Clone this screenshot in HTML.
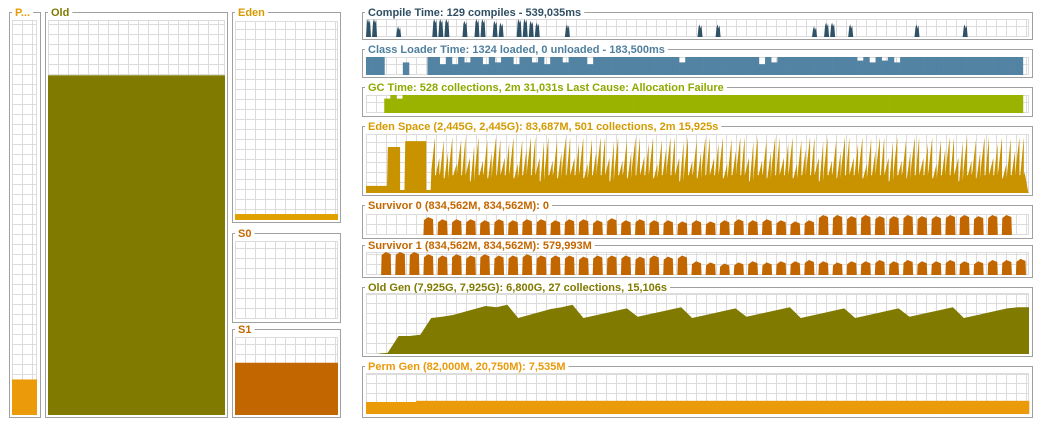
<!DOCTYPE html>
<html><head><meta charset="utf-8">
<style>
body{margin:0;background:#fff;width:1037px;height:429px;overflow:hidden;font-family:"Liberation Sans",sans-serif}
svg{display:block}
text{font-family:"Liberation Sans",sans-serif;font-weight:bold;font-size:11px}
</style></head>
<body>
<svg id="c" width="1037" height="429"></svg>
<script>
// ---- data ----
const compileVals=[1,1,0,0,0,0.6,0,0,0,0,0,1,1,1,0,0,0.9,0,1,1,0,0.9,0.8,0,0,1,1,0.9,0.8,0,0,0,0,0.7,0,0,0,0,0,0,0,0,0,0,0,0,0,0,0,0,0,0,0,0,0,0.7,0,0,0.7,0,0,0,0,0,0,0,0,0,0,0,0,0,0,0,0.6,0,0.8,0.8,0,0,0.7,0,0,0,0,0,0,0,0,0,0,0.7,0,0,0,0,0,0,0,0.7,0,0,0,0,0,0,0,0,0,0];
const classVals=[1,1,1,0,0,0,0.7,0,0,0,1,1,0.6,1,0.6,1,0.7,1,1,0.6,1,0.7,1,1,0.6,1,1,0.7,1,0.6,1,1,0.7,1,1,1,0.6,1,1,1,1,1,1,1,1,1,1,1,1,1,1,0.7,1,1,1,1,1,1,1,1,1,1,1,1,0.6,1,0.7,1,1,1,1,1,1,1,1,1,1,1,1,1,0.8,1,0.7,1,0.8,1,0.7,1,1,1,1,1,1,1,1,1,1,1,1,1,1,1,1,1,1,1,1,0];
const gcVals=[0,0,0,0.8,1,0.8,1,1,1,1,1,1,1,1,1,1,1,1,1,1,1,1,1,1,1,1,1,1,1,1,1,1,1,1,1,1,1,1,1,1,1,1,1,1,1,1,1,1,1,1,1,1,1,1,1,1,1,1,1,1,1,1,1,1,1,1,1,1,1,1,1,1,1,1,1,1,1,1,1,1,1,1,1,1,1,1,1,1,1,1,1,1,1,1,1,1,1,1,1,1,1,1,1,1,1,1,1,1,0];
const edenPeaks=[0.12,0.12,0.12,0.12,0.12,0.78,0.78,0.78,0.05,0.88,0.88,0.88,0.88,0.88,0.05,0.95,0.6,0.9,0.7,0.95,0.5,0.9,0.95,0.6,0.8,0.95,0.55,0.9,0.7,0.95,0.92,0.6,0.85,0.95,0.5,0.9,0.75,0.95,0.95,0.6,0.88,0.95,0.55,0.9,0.7,0.95,0.95,0.6,0.85,0.95,0.5,0.92,0.72,0.95,0.95,0.6,0.88,0.95,0.55,0.9,0.7,0.95,0.95,0.62,0.85,0.95,0.5,0.9,0.75,0.95,0.95,0.6,0.88,0.95,0.55,0.9,0.7,0.95,0.95,0.6,0.85,0.95,0.5,0.92,0.72,0.95,0.95,0.6,0.88,0.95,0.55,0.9,0.7,0.95,0.95,0.6,0.85,0.95,0.5,0.9,0.75,0.95,0.95,0.6,0.88,0.95,0.55,0.9,0.7,0.95,0.95,0.6,0.85,0.95,0.5,0.92,0.72,0.95,0.95,0.6,0.88,0.95,0.55,0.9,0.7,0.95,0.95,0.6,0.85,0.95,0.5,0.9,0.75,0.95,0.95,0.6,0.88,0.95,0.55,0.9,0.7,0.95,0.95,0.6,0.85,0.95,0.5,0.92,0.72,0.95,0.95,0.02];
const edenValleys=[0.12,0.12,0.12,0.12,0.12,0.78,0.78,0.78,0.05,0.88,0.88,0.88,0.88,0.88,0.05,0.4,0.3,0.35,0.25,0.4,0.3,0.45,0.3,0.35,0.2,0.4,0.3,0.35,0.25,0.45,0.3,0.35,0.3,0.4,0.25,0.35,0.3,0.45,0.3,0.35,0.2,0.4,0.3,0.35,0.25,0.45,0.3,0.35,0.3,0.4,0.25,0.35,0.3,0.45,0.3,0.35,0.2,0.4,0.3,0.35,0.25,0.45,0.3,0.35,0.3,0.4,0.25,0.35,0.3,0.45,0.3,0.35,0.2,0.4,0.3,0.35,0.25,0.45,0.3,0.35,0.3,0.4,0.25,0.35,0.3,0.45,0.3,0.35,0.2,0.4,0.3,0.35,0.25,0.45,0.3,0.35,0.3,0.4,0.25,0.35,0.3,0.45,0.3,0.35,0.2,0.4,0.3,0.35,0.25,0.45,0.3,0.35,0.3,0.4,0.25,0.35,0.3,0.45,0.3,0.35,0.2,0.4,0.3,0.35,0.25,0.45,0.3,0.35,0.3,0.4,0.25,0.35,0.3,0.45,0.3,0.35,0.2,0.4,0.3,0.35,0.25,0.45,0.3,0.35,0.3,0.4,0.25,0.35,0.3,0.45,0.3,0.35,0.02];
const s0Blocks=[0,0,0,0,0.85,0.75,0.75,0.75,0.7,0.75,0.7,0.75,0.75,0.7,0.75,0.75,0.7,0.8,0.7,0.75,0.7,0.7,0.65,0.7,0.65,0.7,0.75,0.7,0.75,0.7,0.65,0.7,0.95,0.95,0.9,0.95,0.9,0.9,0.95,0.9,0.9,0.95,0.95,0.9,0.95,0.95,0];
const s1Blocks=[0,1,1,1,0.9,0.85,0.9,0.85,0.9,0.85,0.85,0.9,0.85,0.85,0.85,0.8,0.85,0.85,0.85,0.8,0.85,0.8,0.85,0.6,0.55,0.5,0.55,0.6,0.55,0.6,0.6,0.65,0.6,0.55,0.6,0.6,0.65,0.6,0.65,0.6,0.6,0.65,0.6,0.6,0.65,0.65,0.7];
const oldVals=[0,0,0.02,0.3,0.3,0.32,0.6,0.62,0.65,0.7,0.75,0.8,0.78,0.82,0.6,0.65,0.7,0.75,0.78,0.82,0.6,0.64,0.68,0.72,0.76,0.62,0.66,0.7,0.74,0.78,0.6,0.64,0.68,0.72,0.76,0.62,0.66,0.7,0.74,0.78,0.6,0.64,0.68,0.72,0.76,0.6,0.64,0.68,0.72,0.76,0.62,0.66,0.7,0.74,0.78,0.6,0.64,0.68,0.72,0.76,0.78,0.78];
const permVals=[0.3,0.3,0.3,0.3,0.3,0.33,0.33,0.33,0.33,0.33,0.33,0.33,0.33,0.33,0.33,0.33,0.33,0.33,0.33,0.33,0.33,0.33,0.33,0.33,0.33,0.33,0.33,0.33,0.33,0.33,0.33,0.33,0.33,0.33,0.33,0.33,0.33,0.33,0.33,0.33,0.33,0.33,0.33,0.33,0.33,0.33,0.33,0.33,0.33,0.33,0.33,0.33,0.33,0.33,0.33,0.33,0.33,0.33,0.33,0.33,0.33,0.33,0.33,0.33,0.33,0.33];
const gauges=[
 {name:'perm-gauge',v:0.09},{name:'old-gauge',v:0.86},{name:'eden-gauge',v:0.03},{name:'s0-gauge',v:0},{name:'s1-gauge',v:0.67}];

const NS='http://www.w3.org/2000/svg';
const svg=document.getElementById('c');
function el(t,a,p){const e=document.createElementNS(NS,t);for(const k in a)e.setAttribute(k,a[k]);(p||svg).appendChild(e);return e;}

function panel(name,bx,by,bx2,by2,px,py,px2,py2,title,color){
  const g=el('g',{});
  
  
  el('rect',{x:bx+0.5,y:by+0.5,width:bx2-bx,height:by2-by,fill:'none',stroke:'#a0a0a0'},g);
  const t=el('text',{x:bx+6,y:by+4,fill:color},g);
  t.textContent=title;
  const w=t.getComputedTextLength();
  el('rect',{x:bx+3,y:by-2,width:w+6,height:5,fill:'#fff'},g);
  g.appendChild(t);
  const gr=el('g',{stroke:'#dcdcdc','stroke-width':1},g);
  for(let x=px;x<=px2;x+=10)el('line',{x1:x+0.5,y1:py,x2:x+0.5,y2:py2},gr);
  el('line',{x1:px2-0.5,y1:py,x2:px2-0.5,y2:py2},gr);
  for(let y=py2;y>=py;y-=10)el('line',{x1:px,y1:y-0.5,x2:px2,y2:y-0.5},gr);
  el('line',{x1:px,y1:py+0.5,x2:px2,y2:py+0.5},gr);
  return g;
}

const L=[
 [9,12,40,417,12,20,37,415,'P...','#e89a0a','#eb9b0a'],
 [45,12,227,417,48,20,225,415,'Old','#807a00','#807a00'],
 [232,12,340,222,235,21,338,220,'Eden','#d49a00','#e0a000'],
 [232,233,340,322,235,241,338,319,'S0','#c46600','#c26600'],
 [232,329,340,417,235,337,338,415,'S1','#c46600','#c26600']];
L.forEach((p,i)=>{
  const g=panel(gauges[i].name,...p.slice(0,10));
  const h=(p[7]-p[5])*gauges[i].v;
  if(h>0){const r=el('rect',{x:p[4],y:p[7]-h,width:p[6]-p[4],height:h,fill:p[10]},g);
  
  }
});

const X0=366,X1=1029;
function areaStep(g,vals,py,py2,color,name){
  const n=vals.length,w=(X1-X0)/n,H=py2-py;
  vals.forEach((v,i)=>{ if(v<=0)return;
    const r=el('rect',{x:X0+i*w,y:py2-v*H,width:w+0.3,height:v*H,fill:color},g);
    
    });
}
function spikes(g,vals,py,py2,color,name){
  const n=vals.length,w=(X1-X0)/n,H=py2-py;
  vals.forEach((v,i)=>{ if(v<=0)return;
    const x=X0+i*w,y=py2-v*H;
    const p=el('polygon',{points:`${x},${py2} ${x+1},${y+3} ${x+2},${y} ${x+3},${y+4} ${x+4},${y+1} ${x+5},${py2}`,fill:color},g);
    
    });
}
function blocks(g,vals,py,py2,color,name){
  const n=vals.length,w=(X1-X0)/n,H=py2-py;
  vals.forEach((v,i)=>{ if(v<=0)return;
    const x=X0+i*w,y=py2-v*H;
    const p=el('polygon',{points:`${x+1},${py2} ${x+1.5},${y+3} ${x+w*0.4},${y} ${x+w-3.5},${y+2} ${x+w-3},${py2}`,fill:color},g);
    
    });
}
function saw(g,vals,lows,py,py2,color,name){
  const n=vals.length,w=(X1-X0)/n,H=py2-py;
  let pts=`${X0},${py2} `;
  vals.forEach((v,i)=>{const x=X0+i*w;const lo=lows[i];pts+=`${x},${py2-lo*H} ${x+w-0.8},${py2-v*H} ${x+w-0.8},${py2-Math.min(lo,lows[i+1]||0)*H} `;});
  pts+=`${X1},${py2}`;
  const p=el('polygon',{points:pts,fill:color},g);
  
  
}
function line(g,vals,py,py2,color,name){
  const n=vals.length,w=(X1-X0)/(n-1),H=py2-py;
  let pts=`${X0},${py2} `;
  vals.forEach((v,i)=>{pts+=`${X0+i*w},${py2-v*H} `;});
  pts+=`${X1},${py2}`;
  const p=el('polygon',{points:pts,fill:color},g);
  
  
}
let g;
g=panel('compile-time-chart',362,12,1032,39,X0,19,X1,37,'Compile Time: 129 compiles - 539,035ms','#2f4f63');
spikes(g,compileVals,19,37,'#2f5266','compile-spike');
g=panel('class-loader-chart',362,49,1032,77,X0,57,X1,75,'Class Loader Time: 1324 loaded, 0 unloaded - 183,500ms','#4f7f9e');
areaStep(g,classVals,57,75,'#5283a3','class-loader-bar');
g=panel('gc-time-chart',362,87,1032,116,X0,95,X1,113,'GC Time: 528 collections, 2m 31,031s  Last Cause: Allocation Failure','#8fa800');
areaStep(g,gcVals,95,113,'#99b300','gc-bar');
g=panel('eden-space-chart',362,126,1032,195,X0,134,X1,193,'Eden Space (2,445G, 2,445G): 83,687M, 501 collections, 2m 15,925s','#d49a00');
saw(g,edenPeaks,edenValleys,134,193,'#c99300','eden-area');
g=panel('survivor0-chart',362,205,1032,238,X0,214,X1,235,'Survivor 0 (834,562M, 834,562M): 0','#c46600');
blocks(g,s0Blocks,214,235,'#c26600','survivor0-block');
g=panel('survivor1-chart',362,245,1032,277,X0,252,X1,275,'Survivor 1 (834,562M, 834,562M): 579,993M','#c46600');
blocks(g,s1Blocks,252,275,'#c26600','survivor1-block');
g=panel('old-gen-chart',362,287,1032,356,X0,294,X1,354,'Old Gen (7,925G, 7,925G): 6,800G, 27 collections, 15,106s','#807a00');
line(g,oldVals,294,354,'#807a00','old-gen-area');
g=panel('perm-gen-chart',362,366,1032,417,X0,374,X1,414,'Perm Gen (82,000M, 20,750M): 7,535M','#e89a0a');
areaStep(g,permVals,374,414,'#eb9b0a','perm-gen-bar');
</script>
</body></html>
